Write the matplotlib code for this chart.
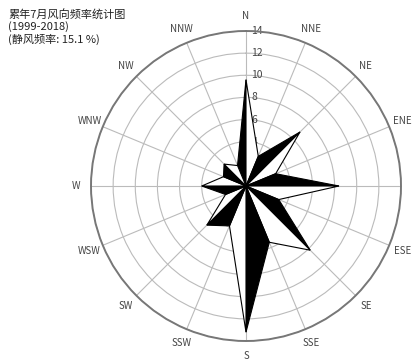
import numpy as np
import matplotlib.pyplot as plt

plt.rcParams['font.family'] = ['Noto Sans CJK SC', 'DejaVu Sans']

# 16 个风向及频率 (%)
directions = ['N', 'NNE', 'NE', 'ENE', 'E', 'ESE', 'SE', 'SSE',
              'S', 'SSW', 'SW', 'WSW', 'W', 'WNW', 'NW', 'NNW']
freq = [9.6, 2.9, 6.9, 2.9, 8.4, 3.2, 8.2, 5.5,
        13.2, 3.9, 5.0, 2.0, 4.0, 2.2, 2.8, 2.0]
rings = [2, 4, 6, 8, 10, 12, 14]
title_lines = ['累年7月风向频率统计图', '(1999-2018)', '(静风频率: 15.1 %)']

fig = plt.figure(figsize=(4.14, 3.61), dpi=100)
ax = fig.add_axes([0.2198, 0.0554, 0.7488, 0.8587], projection='polar')
ax.set_theta_zero_location('N')
ax.set_theta_direction(-1)

theta = np.deg2rad(np.arange(len(directions)) * 22.5)
n = len(freq)

# 罗盘式: 主方向每个角一半黑一半白
for i in range(0, n, 2):
    prev = (i - 1) % n
    nxt = (i + 1) % n
    ax.fill([0, theta[prev], theta[i]], [0, freq[prev], freq[i]],
            facecolor='black', edgecolor='black', lw=0.8, zorder=3)
    ax.fill([0, theta[i], theta[nxt]], [0, freq[i], freq[nxt]],
            facecolor='white', edgecolor='black', lw=0.8, zorder=3)

ax.set_ylim(0, 14)
ax.set_rgrids(rings, labels=[''] * len(rings))
# 半径刻度标注在正北线右侧
for r in rings:
    ax.annotate(str(r), xy=(0, r), xytext=(4, 0), textcoords='offset points',
                ha='left', va='center', fontsize=7.5, color='#444444', zorder=2)
ax.set_thetagrids(np.arange(n) * 22.5, directions, fontsize=7, color='#444444')
ax.xaxis.set_tick_params(pad=0)
ax.grid(color='#bbbbbb', lw=0.8)
ax.spines['polar'].set_color('#777777')
ax.spines['polar'].set_linewidth(1.4)

fig.text(0.02, 0.975, '\n'.join(title_lines), ha='left', va='top',
         fontsize=8, linespacing=1.15, color='#222222')

fig.savefig('out.png', dpi=100)
